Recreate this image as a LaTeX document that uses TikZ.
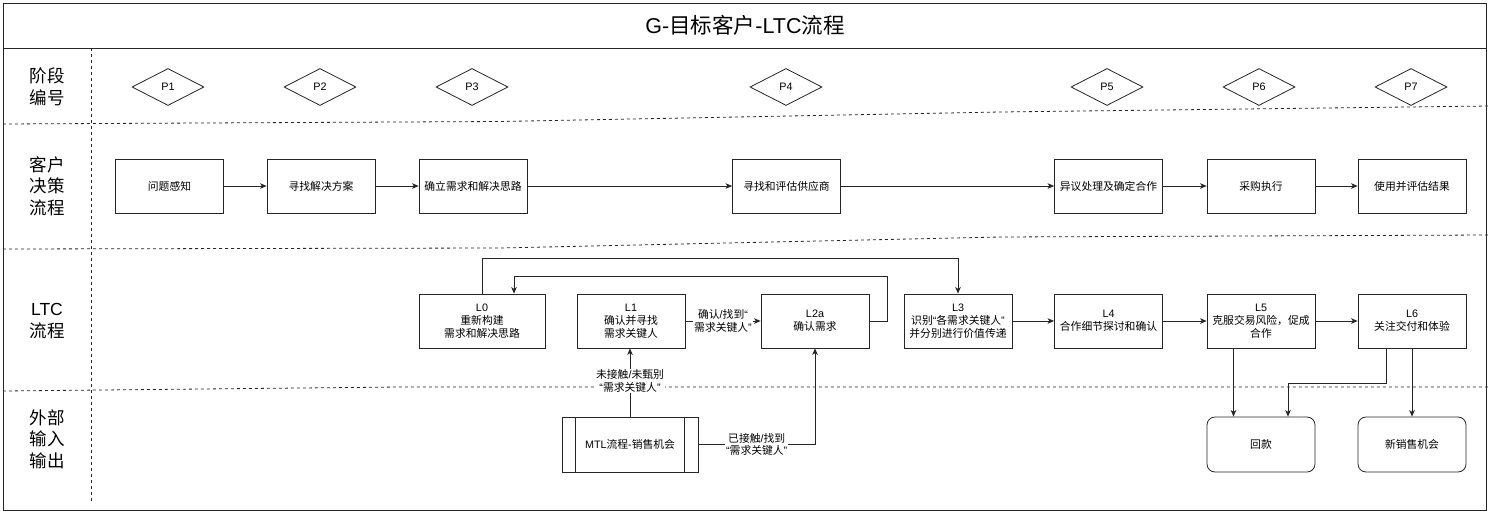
\documentclass[tikz,border=0pt]{standalone}
\usepackage{fontspec}
\setmainfont{Noto Sans CJK SC}
\newfontfamily\enf{Liberation Sans}
\newcommand\en[1]{{\enf #1}}
\newcommand\oq{{\enf “}}
\newcommand\cq{{\enf ”}}
\usetikzlibrary{arrows.meta,shapes.geometric}
\tikzset{
  ln/.style={draw=black!85, line width=0.8pt},
  box/.style={ln, rectangle, minimum width=108pt, minimum height=54pt, inner sep=0pt, align=center,
    font=\fontsize{10.8}{12.8}\selectfont},
  rbox/.style={box, rounded corners=8pt, minimum height=55pt},
  pdia/.style={ln, diamond, minimum width=72pt, minimum height=37pt, inner sep=0pt,
    font=\fontsize{10.8}{12}\selectfont\enf},
  arr/.style={ln, -{Stealth[length=6.5pt,width=5.5pt,inset=1.8pt]}},
  lbl/.style={fill=white, inner sep=1pt, align=center, font=\fontsize{10.8}{12.6}\selectfont},
  lane/.style={align=center, font=\fontsize{17.5}{21.5}\selectfont},
  dsh/.style={draw=black!85, line width=0.8pt, dash pattern=on 3pt off 3pt},
}
\begin{document}
\begin{tikzpicture}[x=1pt,y=-1pt]
\useasboundingbox (0,0) rectangle (1492,514);
\fill[white] (0,0) rectangle (1492,514);

% frame and title
\draw[ln] (3,3) rectangle (1486,510);
\draw[ln] (3,48) -- (1486,48);
\node[font=\fontsize{21.5}{24}\selectfont] (title) at (745,25) {\en{G-}目标客户\en{-LTC}流程};

% lane separators
\draw[dsh] (91,48) -- (91,502);
\draw[dsh] (3,124) -- (500,121.5) -- (1000,112) -- (1489,106);
\draw[dsh] (3,249) -- (500,248) -- (1000,237) -- (1489,235);
\draw[dsh] (3,391) -- (400,387) -- (1489,387);

% lane labels
\node[lane] (lane1) at (47,87) {阶段\\编号};
\node[lane] (lane2) at (47,186) {客户\\决策\\流程};
\node[lane] (lane3) at (47,321) {\en{LTC}\\流程};
\node[lane] (lane4) at (47,439) {外部\\输入\\输出};

% phases
\node[pdia] (p1) at (168,87) {P1};
\node[pdia] (p2) at (320,87) {P2};
\node[pdia] (p3) at (472,87) {P3};
\node[pdia] (p4) at (786,87) {P4};
\node[pdia] (p5) at (1107,87) {P5};
\node[pdia] (p6) at (1259,87) {P6};
\node[pdia] (p7) at (1411,87) {P7};

% customer decision process
\node[box] (c1) at (169.5,186) {问题感知};
\node[box] (c2) at (321,186) {寻找解决方案};
\node[box] (c3) at (473,186) {确立需求和解决思路};
\node[box] (c4) at (786.5,186) {寻找和评估供应商};
\node[box] (c5) at (1108.5,186) {异议处理及确定合作};
\node[box] (c6) at (1261,186) {采购执行};
\node[box] (c7) at (1412,186) {使用并评估结果};
\draw[arr] (c1) -- (c2);
\draw[arr] (c2) -- (c3);
\draw[arr] (c3) -- (c4);
\draw[arr] (c4) -- (c5);
\draw[arr] (c5) -- (c6);
\draw[arr] (c6) -- (c7);

% LTC process
\node[box, minimum width=126pt] (l0) at (482,321) {\en{L0}\\重新构建\\需求和解决思路};
\node[box] (l1) at (631,321) {\en{L1}\\确认并寻找\\需求关键人};
\node[box] (l2) at (815,321) {\en{L2a}\\确认需求};
\node[box] (l3) at (958,321) {\en{L3}\\识别\oq 各需求关键人\cq\\并分别进行价值传递};
\node[box] (l4) at (1108.5,321) {\en{L4}\\合作细节探讨和确认};
\node[box] (l5) at (1261,321) {\en{L5}\\克服交易风险，促成\\合作};
\node[box] (l6) at (1412,321) {\en{L6}\\关注交付和体验};

\draw[arr] (l1) -- node[lbl] {确认\en{/}找到\oq\\需求关键人\cq} (l2);
\draw[arr] (l2.east) -| (887,276) -| ([xshift=32pt]l0.north);
\draw[arr] (l0.north) |- (958,258) -- (l3.north);
\draw[arr] (l3) -- (l4);
\draw[arr] (l4) -- (l5);
\draw[arr] (l5) -- (l6);

% external input/output
\node[box, minimum width=136pt, minimum height=55pt] (mtl) at (630,444.5) {\en{MTL}流程\en{-}销售机会};
\draw[ln] ([xshift=14pt]mtl.north west) -- ([xshift=14pt]mtl.south west);
\draw[ln] ([xshift=-14pt]mtl.north east) -- ([xshift=-14pt]mtl.south east);
\node[rbox] (hk) at (1261,444.5) {回款};
\node[rbox] (xs) at (1412,444.5) {新销售机会};

\draw[arr] (mtl.north) -- node[lbl, pos=0.52] {未接触\en{/}未甄别\\\oq 需求关键人\cq} (mtl.north |- l1.south);
\draw[arr] (mtl.east) -| node[lbl, pos=0.25] {已接触\en{/}找到\\\oq 需求关键人\cq} (l2.south);
\draw[arr] ([xshift=-27.5pt]l5.south) -- ([xshift=-27.5pt]hk.north);
\draw[arr] ([xshift=-26pt]l6.south) -- ++(0,35) -| ([xshift=27pt]hk.north);
\draw[arr] (l6) -- (xs);
\end{tikzpicture}
\end{document}
